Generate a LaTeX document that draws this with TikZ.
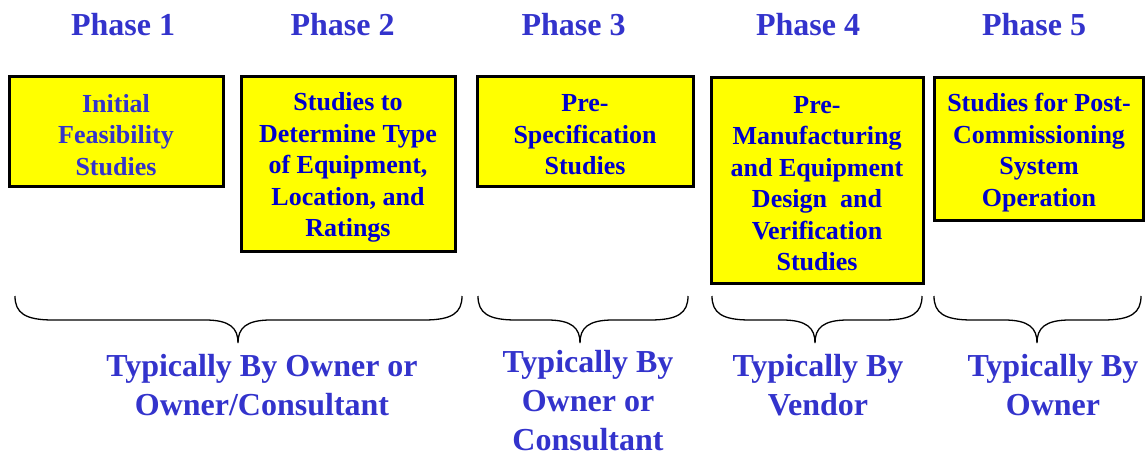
\documentclass[tikz,border=0pt]{standalone}
\usepackage{fontspec}
\setmainfont{Liberation Serif}
\definecolor{hdblue}{RGB}{51,51,204}
\definecolor{bxblue}{RGB}{0,0,204}
\definecolor{bxyellow}{RGB}{255,255,0}
\begin{document}
\begin{tikzpicture}[x=1pt,y=-1pt,
  phase/.style={font=\bfseries\fontsize{32}{38}\selectfont, text=hdblue, inner sep=0pt, anchor=base},
  studybox/.style={draw=black, line width=3pt, fill=bxyellow, inner sep=0pt},
  studytext/.style={inner sep=0pt, align=center, font=\bfseries\fontsize{26}{31.5}\selectfont, text=bxblue},
  owner/.style={font=\bfseries\fontsize{32}{39}\selectfont, text=hdblue, inner sep=0pt, align=center},
  bracecurve/.style={draw=black, line width=1.3pt}
]
\useasboundingbox (0,0) rectangle (1146,457);
% headers
\node[phase] (h1) at (123,36) {Phase 1};
\node[phase] (h2) at (342.5,36) {Phase 2};
\node[phase] (h3) at (573.5,36) {Phase 3};
\node[phase] (h4) at (808,36) {Phase 4};
\node[phase] (h5) at (1034,36) {Phase 5};
% boxes
\node[studybox, minimum width=214, minimum height=110] (b1) at (116,132) {};
\node[studybox, minimum width=214, minimum height=175] (b2) at (348,164.5) {};
\node[studybox, minimum width=216, minimum height=110] (b3) at (585,132) {};
\node[studybox, minimum width=212, minimum height=205] (b4) at (817,180.5) {};
\node[studybox, minimum width=209, minimum height=143] (b5) at (1039,149.5) {};
% box texts
\node[studytext, text=hdblue] (t1) at ([yshift=-3pt]b1.center) {Initial\\Feasibility\\Studies};
\node[studytext] (t2) at ([yshift=-3pt]b2.center) {Studies to\\Determine Type\\of Equipment,\\Location, and\\Ratings};
\node[studytext] (t3) at ([yshift=-3pt]b3.center) {Pre-\\Specification\\Studies};
\node[studytext] (t4) at ([yshift=-3pt]b4.center) {Pre-\\Manufacturing\\and Equipment\\Design\ \ and\\Verification\\Studies};
\node[studytext] (t5) at ([yshift=-3pt]b5.center) {Studies for Post-\\Commissioning\\System\\Operation};
% braces
\foreach \a/\t/\b in {15/238/462, 478/580/688, 712/815/922, 934/1037/1141}{
  \draw[bracecurve] (\a,296) .. controls (\a,313) and (\a+10,320) .. (\a+38,320)
     -- (\t-33,320) .. controls (\t-8,320) and (\t,328) .. (\t,343)
     .. controls (\t,328) and (\t+8,320) .. (\t+33,320)
     -- (\b-38,320) .. controls (\b-10,320) and (\b,313) .. (\b,296);
}
% owner labels
\node[owner] (o1) at (262,385) {Typically By Owner or\\Owner/Consultant};
\node[owner] (o2) at (588,401) {Typically By\\Owner or\\Consultant};
\node[owner] (o3) at (818,385) {Typically By\\Vendor};
\node[owner] (o4) at (1053,385) {Typically By\\Owner};
\end{tikzpicture}
\end{document}
